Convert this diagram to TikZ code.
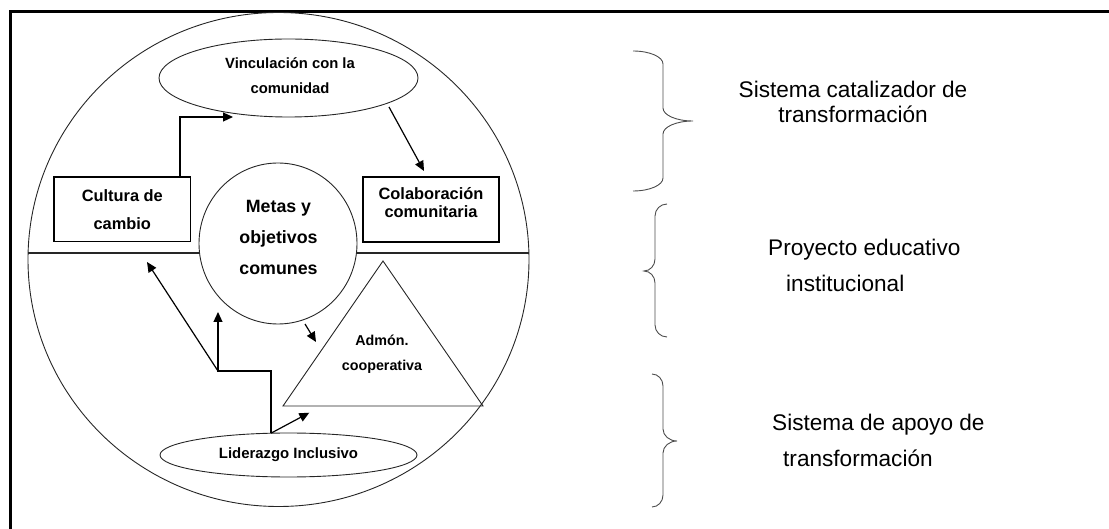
\documentclass[tikz,border=0pt]{standalone}
\usepackage{fontspec}
\setmainfont{Liberation Sans}
\usetikzlibrary{arrows.meta,shapes.geometric}
\begin{document}
\begin{tikzpicture}[x=1pt,y=-1pt,
  thinline/.style={draw=black!85,line width=0.9pt},
  boxnode/.style={draw=black,line width=1.2pt,rectangle,inner sep=0pt,align=center},
  ovalnode/.style={thinline,ellipse,inner sep=0pt,align=center},
  divider/.style={draw=black!85,line width=2pt},
  frameline/.style={draw=black,line width=3pt,line join=miter},
  arr/.style={line width=1.2pt,-{Triangle[length=10pt,width=9pt]}},
  plainline/.style={line width=1.2pt},
  lbl/.style={inner sep=0pt,align=center},
  bracestyle/.style={draw=black!70,line width=0.9pt},
  rlabel/.style={inner sep=0pt,font=\fontsize{22.6}{25}\selectfont}]
\useasboundingbox (0,0) rectangle (1109,529);
% frame
\draw[frameline] (1109,11.5) -- (10,11.5) -- (10,529);
% big circle and divider
\node[ovalnode, minimum width=501pt, minimum height=494pt] (big) at (278.5,259.5) {};
\draw[divider] (28.1,253) -- (199.6,253);
\draw[divider] (356.4,253) -- (529,253);
% central circle
\node[ovalnode, minimum width=158pt, minimum height=161pt] (meta) at (278,243.5) {};
\node[lbl, font=\bfseries\fontsize{17.8}{31}\selectfont] (metat) at (278.5,237) {Metas y\\objetivos\\comunes};
% top ellipse
\node[ovalnode, minimum width=259pt, minimum height=78pt] (vin) at (288.5,78) {};
\node[lbl, font=\bfseries\fontsize{14.8}{25}\selectfont] (vint) at (290,75.5) {Vinculación con la\\comunidad};
% boxes
\node[boxnode, minimum width=136.7pt, minimum height=64.7pt, font=\bfseries\fontsize{16.4}{28}\selectfont] (cult) at (122.3,209.4) {Cultura de\\cambio};
\node[boxnode, minimum width=136pt, minimum height=65pt] (colab) at (431,209.5) {};
\node[lbl, font=\bfseries\fontsize{16.4}{18}\selectfont] (colabt) at (431,203) {Colaboración\\comunitaria};
% triangle
\coordinate (tA) at (383,261);
\coordinate (tL) at (283,406);
\coordinate (tR) at (483,406);
\draw[thinline] (tA) -- (tL) -- (tR) -- cycle;
\node[lbl, font=\bfseries\fontsize{14.3}{25}\selectfont] (admt) at (382,354.5) {Admón.\\cooperativa};
% bottom ellipse
\node[ovalnode, minimum width=257pt, minimum height=44pt, font=\bfseries\fontsize{14.9}{18}\selectfont] (lid) at (288.5,455) {Liderazgo Inclusivo};
% connectors
\coordinate (a1) at (233,117);
\draw[arr] ([xshift=57.7pt]cult.north) |- (a1);
\coordinate (a2s) at (389,107);
\coordinate (a2e) at (424,171);
\draw[arr] (a2s) -- (a2e);
\coordinate (s0) at (271,433.2);
\coordinate (s1) at (271,371);
\coordinate (s2) at (218,371);
\coordinate (s3) at (218,312);
\draw[arr] (s0) -- (s1) -- (s2) -- (s3);
\coordinate (a5) at (147,262);
\draw[arr] (s2) -- (a5);
\coordinate (a3) at (309.3,412.7);
\draw[arr] (s0) -- (a3);
\coordinate (a6s) at (305,324);
\coordinate (a6e) at (316,342);
\draw[arr] (a6s) -- (a6e);
% braces
\draw[bracestyle] (633,51) .. controls (649.6,51) and (663,56.8) .. (663,64) -- (663,108)
  .. controls (663,115.2) and (676.4,121) .. (693,121)
  .. controls (676.4,121) and (663,126.8) .. (663,134) -- (663,178)
  .. controls (663,185.2) and (649.6,191) .. (633,191);
\draw[bracestyle] (667,204) .. controls (660.4,204) and (655,209.4) .. (655,216) -- (655,259)
  .. controls (655,265.6) and (650.1,271) .. (644,271)
  .. controls (650.1,271) and (655,276.4) .. (655,283) -- (655,325)
  .. controls (655,331.6) and (660.4,337) .. (667,337);
\draw[bracestyle] (652,374) .. controls (658.1,374) and (663,379.4) .. (663,386) -- (663,429)
  .. controls (663,435.6) and (669.3,441) .. (677,441)
  .. controls (669.3,441) and (663,446.4) .. (663,453) -- (663,495)
  .. controls (663,501.6) and (658.1,507) .. (652,507);
% right labels
\node[rlabel, align=center] (cat) at (853,101.5) {Sistema catalizador de\\transformación};
\node[rlabel, align=left, anchor=west, font=\fontsize{22.6}{36}\selectfont] (pei) at (768,265) {Proyecto educativo\\\hspace*{18pt}institucional};
\node[rlabel, align=left, anchor=west, font=\fontsize{22.6}{36}\selectfont] (apo) at (772,440) {Sistema de apoyo de\\\hspace*{11pt}transformación};
\end{tikzpicture}
\end{document}
